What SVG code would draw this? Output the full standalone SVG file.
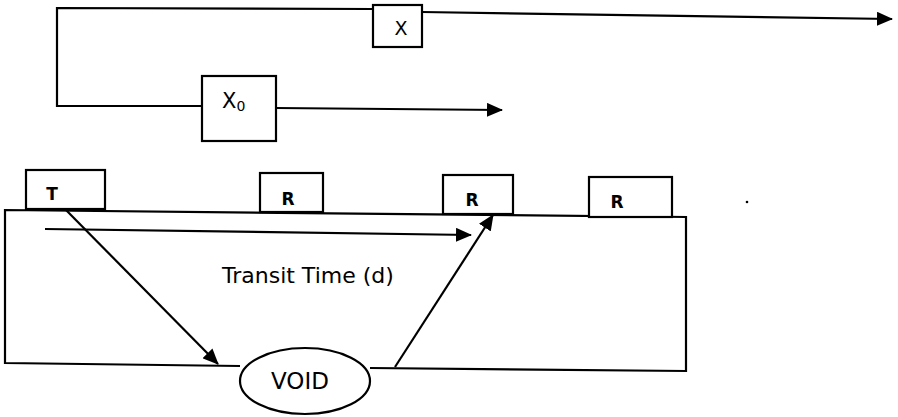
<svg xmlns="http://www.w3.org/2000/svg" width="898" height="417" viewBox="0 0 898 417">
<style>
.ln{fill:none;stroke:#000;stroke-width:2.2}
.bx{fill:#fff;stroke:#000;stroke-width:2.2}
.t{font-family:"DejaVu Sans",Verdana,sans-serif;fill:#000}
.lb{font-family:"DejaVu Sans",Verdana,sans-serif;font-weight:bold;font-size:17px;fill:#000}
</style>
<defs>
<marker id="ah" markerWidth="16" markerHeight="14" refX="15" refY="7" orient="auto" markerUnits="userSpaceOnUse">
<path d="M0,0 L16,7 L0,14 Z" fill="#000"/>
</marker>
</defs>
<g id="connectors">
<polyline class="ln" points="373,9 57,8 57,106 202,106"/>
<line class="ln" x1="422" y1="12" x2="892" y2="19" marker-end="url(#ah)"/>
<line class="ln" x1="276" y1="108" x2="502" y2="110" marker-end="url(#ah)"/>
<line class="ln" x1="45" y1="229" x2="471" y2="235" marker-end="url(#ah)"/>
<line class="ln" x1="65" y1="209" x2="218" y2="364" marker-end="url(#ah)"/>
<line class="ln" x1="395" y1="367" x2="493" y2="215" marker-end="url(#ah)"/>
</g>
<g id="block">
<polyline class="ln" points="240,366 5,363 5,210 686,217 686,371 370,368"/>
</g>
<g id="node-x">
<rect class="bx" x="373" y="5" width="49" height="42"/>
<text class="t" x="401" y="35" font-size="19" text-anchor="middle">X</text>
</g>
<g id="node-x0">
<rect class="bx" x="202" y="76" width="74" height="65"/>
<text class="t" x="222" y="108" font-size="21">X<tspan font-size="14" dy="3">0</tspan></text>
</g>
<g id="node-t">
<rect class="bx" x="26" y="170" width="79" height="39"/>
<text class="lb" x="52" y="200" text-anchor="middle">T</text>
</g>
<g id="node-r1">
<rect class="bx" x="260" y="173" width="63" height="39"/>
<text class="lb" x="288" y="205" text-anchor="middle">R</text>
</g>
<g id="node-r2">
<rect class="bx" x="443" y="175" width="70" height="39"/>
<text class="lb" x="472" y="206" text-anchor="middle">R</text>
</g>
<g id="node-r3">
<rect class="bx" x="589" y="177" width="83" height="40"/>
<text class="lb" x="617" y="208" text-anchor="middle">R</text>
</g>
<g id="label-transit">
<text class="t" x="222" y="283" font-size="22">Transit Time (d)</text>
</g>
<g id="node-void">
<ellipse class="bx" cx="305" cy="381" rx="65" ry="33"/>
<text class="t" x="300" y="389" font-size="23" text-anchor="middle">VOID</text>
</g>
<circle cx="747" cy="202" r="1.3" fill="#000"/>
</svg>
